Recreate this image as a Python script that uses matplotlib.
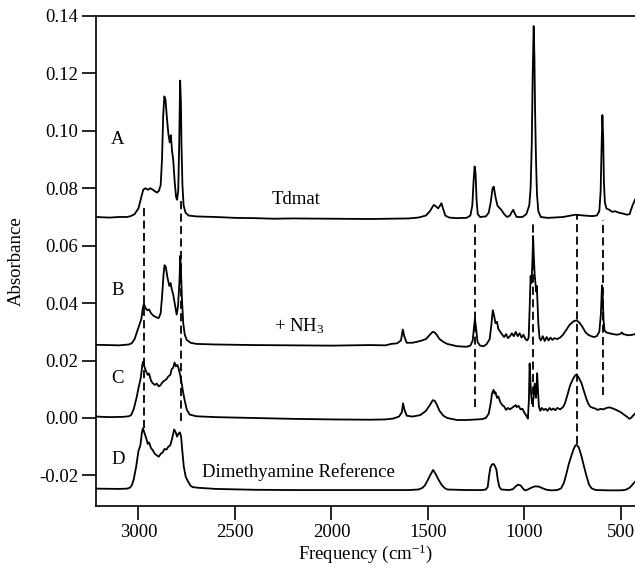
import numpy as np
import matplotlib
matplotlib.use("Agg")
import matplotlib.pyplot as plt

# spectrum A - Tdmat
a_nu = [3223, 3150, 3100, 3060, 3040, 3020, 3000, 2985, 2975, 2965, 2950, 2940, 2930, 2915, 2905,
        2895, 2885, 2878, 2872, 2866, 2860, 2852, 2845, 2838, 2832, 2826, 2820, 2812, 2805, 2800,
        2794, 2789, 2784, 2780, 2777, 2772, 2766, 2756, 2740, 2700, 2600, 2500, 2400, 2300, 2200,
        2000, 1800, 1600, 1550, 1510, 1490, 1470, 1460, 1447, 1437, 1430, 1422, 1410, 1390, 1350,
        1300, 1280, 1270, 1263, 1258, 1253, 1248, 1242, 1230, 1200, 1185, 1175, 1165, 1159, 1150,
        1140, 1130, 1120, 1105, 1090, 1075, 1065, 1058, 1050, 1040, 1010, 990, 975, 968, 962,
        957, 952, 948, 945, 940, 935, 928, 915, 880, 850, 800, 760, 735, 720, 690,
        650, 625, 612, 605, 600, 596, 592, 588, 583, 575, 560, 545, 530, 510, 490,
        470, 455, 440, 427]
a_abs = [0.0700, 0.0698, 0.0700, 0.0700, 0.0703, 0.0710, 0.0730, 0.0770, 0.0795, 0.0800, 0.0795, 0.0800, 0.0797, 0.0790, 0.0785,
         0.0790, 0.0810, 0.0900, 0.1050, 0.1120, 0.1110, 0.1040, 0.0990, 0.0960, 0.0985, 0.0930, 0.0900, 0.0820, 0.0770, 0.0760,
         0.0790, 0.0950, 0.1175, 0.1100, 0.0950, 0.0810, 0.0740, 0.0715, 0.0705, 0.0702, 0.0700, 0.0697, 0.0696, 0.0694, 0.0695,
         0.0694, 0.0693, 0.0695, 0.0698, 0.0705, 0.0720, 0.0742, 0.0738, 0.0730, 0.0740, 0.0748, 0.0730, 0.0705, 0.0698, 0.0696,
         0.0697, 0.0705, 0.0740, 0.0830, 0.0876, 0.0850, 0.0760, 0.0710, 0.0700, 0.0702, 0.0715, 0.0750, 0.0800, 0.0806, 0.0770,
         0.0740, 0.0732, 0.0725, 0.0710, 0.0700, 0.0705, 0.0718, 0.0725, 0.0712, 0.0700, 0.0700, 0.0710, 0.0740, 0.0800, 0.0950,
         0.1200, 0.1365, 0.1250, 0.1080, 0.0900, 0.0780, 0.0720, 0.0700, 0.0697, 0.0698, 0.0700, 0.0705, 0.0708, 0.0707, 0.0705,
         0.0703, 0.0705, 0.0720, 0.0790, 0.0950, 0.1055, 0.0980, 0.0820, 0.0750, 0.0730, 0.0725, 0.0718, 0.0720, 0.0715, 0.0712,
         0.0708, 0.0710, 0.0740, 0.0760]

# spectrum B - + NH3
b_nu = [3223, 3100, 3050, 3035, 3020, 3005, 2995, 2985, 2978, 2972, 2965, 2955, 2945, 2935, 2920,
        2905, 2895, 2885, 2878, 2870, 2865, 2858, 2850, 2840, 2833, 2828, 2820, 2810, 2802, 2795,
        2788, 2783, 2779, 2775, 2768, 2760, 2750, 2730, 2700, 2600, 2400, 2200, 2000, 1800, 1720,
        1690, 1660, 1640, 1630, 1623, 1610, 1580, 1540, 1510, 1490, 1475, 1465, 1455, 1440, 1420,
        1400, 1350, 1300, 1280, 1268, 1260, 1256, 1250, 1243, 1230, 1210, 1195, 1180, 1172, 1164,
        1158, 1150, 1142, 1135, 1125, 1115, 1105, 1095, 1085, 1075, 1065, 1055, 1045, 1035, 1025,
        1015, 1005, 995, 985, 978, 972, 968, 963, 958, 955, 951, 947, 943, 939, 936,
        932, 928, 922, 915, 905, 895, 885, 875, 865, 855, 845, 830, 815, 800, 785,
        765, 745, 730, 715, 700, 685, 670, 655, 640, 625, 612, 604, 598, 594, 590,
        585, 575, 560, 540, 520, 505, 495, 488, 475, 460, 440, 427]
b_abs = [0.0255, 0.0253, 0.0256, 0.0260, 0.0275, 0.0305, 0.0325, 0.0345, 0.0380, 0.0398, 0.0385, 0.0375, 0.0378, 0.0365, 0.0355,
         0.0350, 0.0348, 0.0365, 0.0420, 0.0500, 0.0532, 0.0525, 0.0490, 0.0460, 0.0470, 0.0450, 0.0430, 0.0390, 0.0360, 0.0390,
         0.0470, 0.0565, 0.0500, 0.0420, 0.0330, 0.0290, 0.0272, 0.0262, 0.0258, 0.0256, 0.0254, 0.0253, 0.0252, 0.0254, 0.0253,
         0.0258, 0.0260, 0.0270, 0.0308, 0.0285, 0.0262, 0.0262, 0.0268, 0.0275, 0.0290, 0.0300, 0.0298, 0.0290, 0.0275, 0.0265,
         0.0258, 0.0250, 0.0248, 0.0252, 0.0270, 0.0325, 0.0344, 0.0310, 0.0265, 0.0252, 0.0250, 0.0258, 0.0275, 0.0320, 0.0375,
         0.0360, 0.0330, 0.0335, 0.0310, 0.0300, 0.0290, 0.0282, 0.0292, 0.0278, 0.0285, 0.0295, 0.0285, 0.0300, 0.0285, 0.0295,
         0.0280, 0.0290, 0.0275, 0.0270, 0.0280, 0.0400, 0.0495, 0.0470, 0.0560, 0.0634, 0.0560, 0.0500, 0.0470, 0.0440, 0.0460,
         0.0400, 0.0330, 0.0280, 0.0270, 0.0285, 0.0268, 0.0282, 0.0270, 0.0280, 0.0272, 0.0278, 0.0275, 0.0280, 0.0290, 0.0305,
         0.0325, 0.0337, 0.0340, 0.0332, 0.0318, 0.0300, 0.0290, 0.0285, 0.0282, 0.0285, 0.0300, 0.0360, 0.0462, 0.0420, 0.0340,
         0.0305, 0.0298, 0.0295, 0.0292, 0.0290, 0.0292, 0.0298, 0.0292, 0.0290, 0.0288, 0.0290, 0.0292]

# spectrum C
c_nu = [3223, 3150, 3080, 3050, 3038, 3025, 3010, 2998, 2988, 2980, 2976, 2970, 2962, 2952, 2945,
        2935, 2926, 2915, 2905, 2895, 2885, 2875, 2865, 2855, 2845, 2835, 2828, 2820, 2813, 2806,
        2798, 2791, 2784, 2779, 2770, 2761, 2750, 2735, 2700, 2600, 2400, 2200, 2000, 1800, 1720,
        1680, 1650, 1635, 1629, 1622, 1610, 1580, 1540, 1510, 1490, 1475, 1465, 1455, 1440, 1420,
        1400, 1350, 1300, 1250, 1220, 1200, 1185, 1175, 1168, 1160, 1155, 1150, 1142, 1135, 1125,
        1115, 1105, 1095, 1085, 1075, 1065, 1055, 1045, 1040, 1030, 1020, 1010, 1000, 990, 982,
        977, 973, 969, 965, 960, 955, 952, 947, 943, 940, 937, 934, 930, 925, 918,
        910, 900, 890, 880, 870, 860, 850, 840, 830, 815, 800, 790, 775, 765, 756,
        745, 735, 728, 718, 704, 690, 678, 670, 660, 645, 633, 620, 605, 590, 575,
        560, 545, 530, 515, 500, 485, 470, 455, 445, 435, 427]
c_abs = [0.0005, 0.0003, 0.0004, 0.0006, 0.0010, 0.0030, 0.0070, 0.0110, 0.0140, 0.0185, 0.0196, 0.0180, 0.0165, 0.0150, 0.0155,
         0.0130, 0.0121, 0.0115, 0.0120, 0.0110, 0.0115, 0.0125, 0.0130, 0.0135, 0.0145, 0.0150, 0.0170, 0.0175, 0.0193, 0.0180,
         0.0185, 0.0170, 0.0150, 0.0132, 0.0095, 0.0063, 0.0030, 0.0012, 0.0006, 0.0003, 0.0000, -0.0003, -0.0005, -0.0006, -0.0005,
         -0.0002, 0.0005, 0.0020, 0.0051, 0.0030, 0.0008, 0.0005, 0.0010, 0.0025, 0.0045, 0.0062, 0.0060, 0.0048, 0.0025, 0.0008,
         0.0000, -0.0007, -0.0007, -0.0005, -0.0004, 0.0000, 0.0015, 0.0050, 0.0085, 0.0098, 0.0085, 0.0090, 0.0070, 0.0075, 0.0055,
         0.0045, 0.0040, 0.0028, 0.0035, 0.0030, 0.0035, 0.0040, 0.0045, 0.0038, 0.0042, 0.0030, 0.0032, 0.0018, 0.0008, -0.0002,
         0.0060, 0.0190, 0.0130, 0.0080, 0.0050, 0.0060, 0.0075, 0.0120, 0.0090, 0.0070, 0.0110, 0.0156, 0.0100, 0.0040, 0.0025,
         0.0035, 0.0028, 0.0032, 0.0025, 0.0035, 0.0028, 0.0033, 0.0027, 0.0035, 0.0030, 0.0038, 0.0051, 0.0085, 0.0110, 0.0125,
         0.0140, 0.0150, 0.0150, 0.0140, 0.0121, 0.0090, 0.0065, 0.0051, 0.0040, 0.0035, 0.0033, 0.0028, 0.0032, 0.0030, 0.0035,
         0.0037, 0.0034, 0.0030, 0.0025, 0.0020, 0.0012, 0.0005, -0.0003, 0.0002, 0.0010, 0.0015]

# spectrum D - dimethylamine reference
d_nu = [3223, 3100, 3060, 3045, 3035, 3025, 3012, 3000, 2990, 2982, 2977, 2970, 2960, 2952, 2945,
        2935, 2926, 2915, 2905, 2895, 2885, 2875, 2865, 2855, 2845, 2835, 2825, 2815, 2807, 2800,
        2793, 2785, 2779, 2772, 2765, 2755, 2744, 2730, 2718, 2690, 2600, 2400, 2200, 2000, 1800,
        1600, 1550, 1530, 1516, 1500, 1485, 1473, 1460, 1445, 1430, 1415, 1400, 1300, 1220, 1200,
        1190, 1183, 1176, 1168, 1160, 1152, 1145, 1138, 1130, 1120, 1080, 1060, 1045, 1033, 1020,
        1008, 998, 985, 965, 945, 925, 905, 885, 860, 830, 810, 795, 782, 770, 756,
        745, 735, 728, 718, 704, 690, 678, 665, 652, 630, 560, 500, 475, 455, 440,
        427]
d_abs = [-0.0246, -0.0247, -0.0246, -0.0243, -0.0235, -0.0215, -0.0170, -0.0115, -0.0095, -0.0050, -0.0036, -0.0050, -0.0070, -0.0090, -0.0085,
         -0.0105, -0.0112, -0.0125, -0.0130, -0.0135, -0.0125, -0.0120, -0.0108, -0.0110, -0.0100, -0.0095, -0.0070, -0.0040, -0.0050, -0.0065,
         -0.0055, -0.0050, -0.0065, -0.0120, -0.0170, -0.0205, -0.0220, -0.0236, -0.0241, -0.0243, -0.0247, -0.0250, -0.0251, -0.0251, -0.0251,
         -0.0251, -0.0249, -0.0244, -0.0235, -0.0215, -0.0195, -0.0181, -0.0195, -0.0215, -0.0232, -0.0243, -0.0249, -0.0251, -0.0251, -0.0249,
         -0.0240, -0.0200, -0.0172, -0.0162, -0.0160, -0.0168, -0.0180, -0.0215, -0.0240, -0.0249, -0.0251, -0.0248, -0.0238, -0.0232, -0.0235,
         -0.0245, -0.0252, -0.0250, -0.0243, -0.0238, -0.0239, -0.0245, -0.0250, -0.0252, -0.0251, -0.0245, -0.0225, -0.0193, -0.0160, -0.0130,
         -0.0108, -0.0095, -0.0094, -0.0103, -0.0134, -0.0172, -0.0203, -0.0232, -0.0245, -0.0251, -0.0252, -0.0252, -0.0250, -0.0243, -0.0232,
         -0.0222]

# dashed guide lines: position, top and bottom end
dash_nu = [2972, 2782, 1256, 953, 730, 592]
dash_top = [0.073, 0.076, 0.068, 0.068, 0.0707, 0.069]
dash_bottom = [-0.0036, -0.001, 0.004, 0.004, -0.009, 0.008]

trace_letters = ["A", "B", "C", "D"]
letter_y = [0.0969, 0.0443, 0.0136, -0.0143]

x_ticks = [3000, 2500, 2000, 1500, 1000, 500]
y_ticks = [-0.02, 0.00, 0.02, 0.04, 0.06, 0.08, 0.10, 0.12, 0.14]

plt.rcParams["font.family"] = ["Liberation Serif", "DejaVu Serif"]
plt.rcParams["mathtext.fontset"] = "custom"
plt.rcParams["mathtext.rm"] = "Liberation Serif"
plt.rcParams["mathtext.it"] = "Liberation Serif:italic"
plt.rcParams["axes.unicode_minus"] = False
fs = 13.5

fig = plt.figure(figsize=(6.35, 5.66), dpi=100)
ax = fig.add_axes([96 / 635, 60 / 566, 539 / 635, 490 / 566])

for nu, ab in [(a_nu, a_abs), (b_nu, b_abs), (c_nu, c_abs), (d_nu, d_abs)]:
    ax.plot(nu, ab, color="black", linewidth=1.3)

for i in range(len(dash_nu)):
    ax.plot([dash_nu[i], dash_nu[i]], [dash_bottom[i], dash_top[i]], color="black",
            linewidth=1.3, linestyle=(0, (4.5, 2.4)))

for letter, y in zip(trace_letters, letter_y):
    ax.text(3106, y, letter, fontsize=fs, ha="center", va="center")

ax.text(2312, 0.0762, "Tdmat", fontsize=fs, ha="left", va="center")
ax.text(2300, 0.0320, "+ NH$_3$", fontsize=fs, ha="left", va="center")
ax.text(2673, -0.0188, "Dimethyamine Reference", fontsize=fs, ha="left", va="center")

ax.set_xlim(3220, 427)
ax.set_ylim(-0.03065, 0.14)
ax.set_xticks(x_ticks)
ax.set_yticks(y_ticks)
ax.set_yticklabels(["%.2f" % v for v in y_ticks])
ax.tick_params(direction="out", length=10, width=1.2, labelsize=fs, pad=3)
ax.spines["right"].set_visible(False)
for s in ["left", "top", "bottom"]:
    ax.spines[s].set_linewidth(1.2)

ax.set_ylabel("Absorbance", fontsize=fs, labelpad=10)
ax.set_xlabel("Frequency (cm$^{-1}$)", fontsize=fs, labelpad=1)

fig.savefig("out.png", dpi=100)
